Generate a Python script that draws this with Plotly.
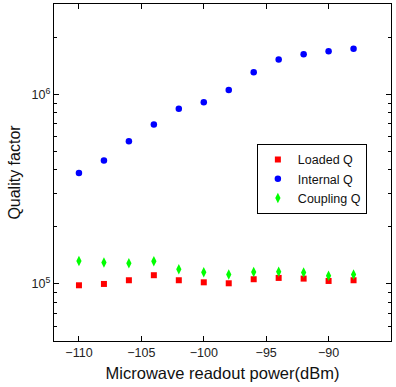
import plotly.graph_objects as go

# Readout power sweep (dBm)
power_dbm = [-110, -108, -106, -104, -102, -100, -98, -96, -94, -92, -90, -88]

# Quality factors extracted from resonator fits
loaded_q = [9.84e4, 1.00e5, 1.046e5, 1.112e5, 1.046e5, 1.02e5, 1.008e5,
            1.059e5, 1.076e5, 1.067e5, 1.037e5, 1.046e5]
internal_q = [3.85e5, 4.48e5, 5.66e5, 6.93e5, 8.4e5, 9.1e5, 1.054e6,
              1.31e6, 1.53e6, 1.63e6, 1.69e6, 1.74e6]
coupling_q = [1.323e5, 1.296e5, 1.286e5, 1.318e5, 1.196e5, 1.153e5, 1.12e5,
              1.156e5, 1.161e5, 1.149e5, 1.106e5, 1.12e5]

x_ticks = [-110, -105, -100, -95, -90, -85]
y_ticks = [1e5, 1e6]
y_tick_text = ["10<sup>5</sup>", "10<sup>6</sup>"]
y_minor = [6e4, 7e4, 8e4, 9e4, 2e5, 3e5, 4e5, 5e5, 6e5, 7e5, 8e5, 9e5, 2e6, 3e6]

FONT = "Liberation Sans, Arial, Helvetica, sans-serif"

fig = go.Figure()
fig.add_trace(go.Scatter(x=power_dbm, y=loaded_q, mode="markers", name="Loaded Q",
                         marker=dict(symbol="square", size=6, color="#ff0000")))
fig.add_trace(go.Scatter(x=power_dbm, y=internal_q, mode="markers", name="Internal Q",
                         marker=dict(symbol="circle", size=6.5, color="#0000ff")))
fig.add_trace(go.Scatter(x=power_dbm, y=coupling_q, mode="markers", name="Coupling Q",
                         marker=dict(symbol="diamond-tall", size=7.5, color="#00ff00")))

axis_common = dict(showgrid=False, zeroline=False, showline=True, linecolor="black",
                   linewidth=1.3, mirror="ticks", ticks="inside", ticklen=5,
                   tickcolor="black", tickfont=dict(family=FONT, size=12.5, color="#222"))

fig.update_xaxes(range=[-112, -85], tickvals=x_ticks,
                 title=dict(text="Microwave readout power(dBm)", standoff=8,
                            font=dict(family=FONT, size=16.5, color="#111")),
                 **axis_common)
fig.update_yaxes(type="log", range=[4.699, 6.477], tickvals=y_ticks, ticktext=y_tick_text,
                 minor=dict(tickvals=y_minor, ticks="inside", ticklen=3, tickcolor="black"),
                 title=dict(text="Quality factor", standoff=6,
                            font=dict(family=FONT, size=16, color="#111")),
                 **axis_common)

fig.update_layout(
    width=396, height=387,
    margin=dict(l=54, r=5, t=4, b=46),
    paper_bgcolor="white", plot_bgcolor="white",
    font=dict(family=FONT, size=12, color="#111"),
    legend=dict(x=0.602, y=0.585, xanchor="left", yanchor="top",
                bgcolor="white", bordercolor="black", borderwidth=1,
                font=dict(family=FONT, size=12.5, color="#111"),
                itemsizing="trace", tracegroupgap=0),
    showlegend=True,
)

fig.write_html("out.html")
